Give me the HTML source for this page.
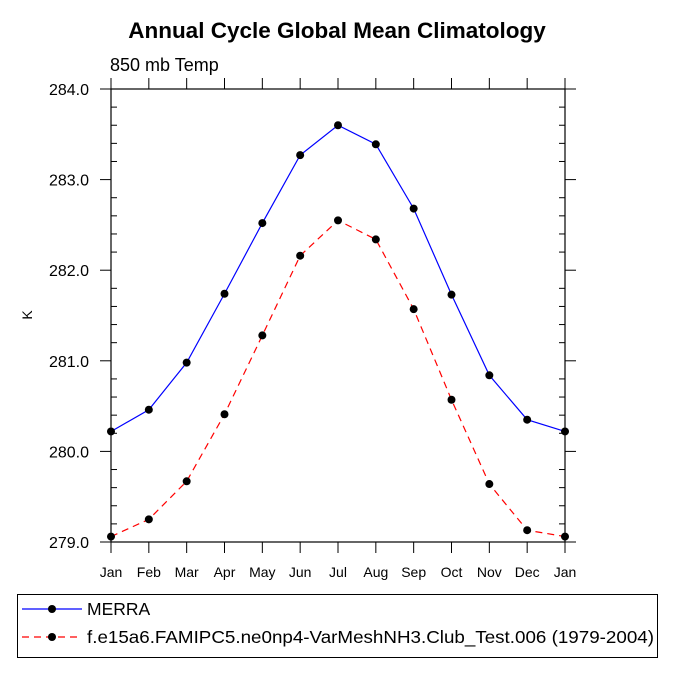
<!DOCTYPE html>
<html><head><meta charset="utf-8"><style>
body{margin:0;background:#fff;}
svg text{font-family:"Liberation Sans",sans-serif;}
</style></head><body>
<svg id="chart" width="675" height="675" viewBox="0 0 675 675" xmlns="http://www.w3.org/2000/svg">
<rect width="675" height="675" fill="#fff"/>
<text x="337" y="38" text-anchor="middle" font-size="22.5" font-weight="bold">Annual Cycle Global Mean Climatology</text>
<text x="110" y="71" font-size="18">850 mb Temp</text>
<text x="32" y="315" font-size="14" text-anchor="middle" transform="rotate(-90 32 315)">K</text>
<g id="axes"></g>
<g id="series"></g>
<rect x="17.5" y="594.5" width="640" height="63" fill="none" stroke="#000" stroke-width="1"/>
<g>
<line x1="22" y1="609" x2="82" y2="609" stroke="#00f" stroke-width="1.2"/>
<circle cx="52" cy="609" r="4" fill="#000"/>
<text x="87" y="615" font-size="17.5">MERRA</text></g>
<g>
<line x1="22" y1="637" x2="82" y2="637" stroke="#f00" stroke-width="1.2" stroke-dasharray="7,5"/>
<circle cx="52" cy="637" r="4" fill="#000"/>
<text x="87" y="643" font-size="17.5" textLength="567" lengthAdjust="spacingAndGlyphs">f.e15a6.FAMIPC5.ne0np4-VarMeshNH3.Club_Test.006 (1979-2004)</text></g>
</svg>
<script>
const months=["Jan","Feb","Mar","Apr","May","Jun","Jul","Aug","Sep","Oct","Nov","Dec","Jan"];
const merra=[280.22,280.46,280.98,281.74,282.52,283.27,283.60,283.39,282.68,281.73,280.84,280.35,280.22];
const testRun=[279.06,279.25,279.67,280.41,281.28,282.16,282.55,282.34,281.57,280.57,279.64,279.13,279.06];
const yTicks=[279,280,281,282,283,284];
const yTickLabels=["279.0","280.0","281.0","282.0","283.0","284.0"];
const X0=111,X1=565,Y0=542,Y1=89,YMIN=279,YMAX=284;
const xs=i=>X0+(X1-X0)*i/(months.length-1);
const ys=v=>Y0-(Y0-Y1)*(v-YMIN)/(YMAX-YMIN);
const NS="http://www.w3.org/2000/svg";
function mk(t,a,p){const e=document.createElementNS(NS,t);for(const k in a)e.setAttribute(k,a[k]);p.appendChild(e);return e;}
const ax=document.getElementById('axes'),sg=document.getElementById('series');
const frame=mk('rect',{x:X0,y:Y1,width:X1-X0,height:Y0-Y1,fill:'none',stroke:'#000','stroke-width':1.2},ax);


months.forEach((m,i)=>{const x=xs(i);
 mk('line',{x1:x,y1:Y0,x2:x,y2:Y0+11,stroke:'#000'},ax);
 mk('line',{x1:x,y1:Y1,x2:x,y2:Y1-11,stroke:'#000'},ax);
 const t=mk('text',{x:x,y:Y0+35,'text-anchor':'middle','font-size':14},ax);t.textContent=m;
 
 
});
yTicks.forEach((v,i)=>{const y=ys(v);
 mk('line',{x1:X0-11,y1:y,x2:X0,y2:y,stroke:'#000'},ax);
 mk('line',{x1:X1,y1:y,x2:X1+11,y2:y,stroke:'#000'},ax);
 const t=mk('text',{x:X0-22,y:y+6,'text-anchor':'end','font-size':16},ax);t.textContent=yTickLabels[i];
 
 
 if(i<yTicks.length-1)for(let k=1;k<5;k++){const yy=ys(v+k*0.2);
  mk('line',{x1:X0,y1:yy,x2:X0+6,y2:yy,stroke:'#000'},ax);
  mk('line',{x1:X1-6,y1:yy,x2:X1,y2:yy,stroke:'#000'},ax);}
});
function series(data,color,dash,name){
 const pl=mk('polyline',{points:data.map((v,i)=>xs(i)+','+ys(v)).join(' '),fill:'none',stroke:color,'stroke-width':1.2,'stroke-dasharray':dash},sg);
 
 
 data.forEach((v,i)=>{const c=mk('circle',{cx:xs(i),cy:ys(v),r:4,fill:'#000'},sg);
  
  });
}
series(merra,'#00f','none','merra');
series(testRun,'#f00','7,5','test-run');
</script>
</body></html>
